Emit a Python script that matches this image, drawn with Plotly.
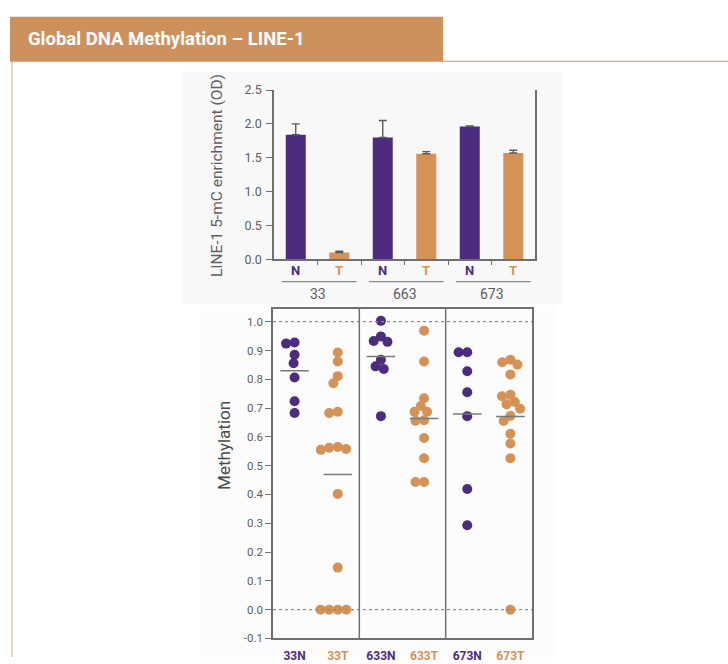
import numpy as np
import plotly.graph_objects as go

# ---------------- data ----------------
# LINE-1 5-mC enrichment (OD), normal vs tumour for three samples
bar_groups = ["33", "663", "673"]
bar_tissue = ["N", "T", "N", "T", "N", "T"]
bar_means = [1.84, 0.10, 1.80, 1.56, 1.96, 1.57]
bar_err_up = [0.16, 0.02, 0.25, 0.03, 0.01, 0.04]
bar_yticks = [0.0, 0.5, 1.0, 1.5, 2.0, 2.5]

# LINE-1 methylation at individual CpG sites
dot_labels = ["33N", "33T", "633N", "633T", "673N", "673T"]
meth_33N = [0.928, 0.924, 0.885, 0.856, 0.806, 0.724, 0.683]
meth_33T = [0.893, 0.862, 0.811, 0.786, 0.687, 0.683, 0.565, 0.562, 0.558,
            0.555, 0.402, 0.146, 0.0, 0.0, 0.0, 0.0]
meth_633N = [1.003, 0.949, 0.933, 0.930, 0.868, 0.845, 0.836, 0.672]
meth_633T = [0.969, 0.862, 0.734, 0.707, 0.687, 0.687, 0.658, 0.656, 0.596,
             0.526, 0.443, 0.443]
meth_673N = [0.894, 0.894, 0.828, 0.755, 0.672, 0.419, 0.293]
meth_673T = [0.868, 0.859, 0.851, 0.817, 0.746, 0.741, 0.721, 0.713, 0.698,
             0.673, 0.655, 0.611, 0.577, 0.526, 0.0]
dot_yticks = [1.0, 0.9, 0.8, 0.7, 0.6, 0.5, 0.4, 0.3, 0.2, 0.1, 0.0, -0.1]

# ---------------- styling ----------------
W, H = 728, 664
PURPLE = "#4B2C7E"
ORANGE = "#D49257"
HEADER = "#CC915D"
AXIS = "#707070"
TXT = "#5e5e5e"
FONT = "Roboto"


def px_x(p):
    return p / W


def px_y(p):
    return 1 - p / H


tissue_color = {"N": PURPLE, "T": ORANGE}

# axis geometry (pixels in the page)
top_x_px = (274, 535)
top_y_px = (84, 257)
bot_x_px = (273, 532)
bot_y_px = (308, 645)
bot_yrange = [-0.1, 1.044]


def swarm_offsets(values, xscale, yscale, diam):
    """Beeswarm layout: returns horizontal offsets (data units)."""
    vals = np.asarray(values, dtype=float)
    order = np.argsort(-vals, kind="stable")
    placed = []
    offs = np.zeros(len(vals))
    for i in order:
        y = vals[i] * yscale
        blocked = []
        for px, py in placed:
            dy = abs(py - y)
            if dy < diam:
                h = np.sqrt(diam ** 2 - dy ** 2)
                blocked.append((px - h, px + h))
        cands = [0.0] + [b for iv in blocked for b in iv]
        cands.sort(key=lambda c: (abs(round(c, 6)), c))
        chosen = 0.0
        for c in cands:
            if all(not (lo + 1e-6 < c < hi - 1e-6) for lo, hi in blocked):
                chosen = c
                break
        offs[i] = chosen
        placed.append((chosen, y))
    return offs / xscale


fig = go.Figure()

# ---------- top: bar chart ----------
fig.add_trace(go.Bar(
    x=list(range(len(bar_means))), y=bar_means,
    marker=dict(color=[tissue_color[t] for t in bar_tissue], line=dict(width=0)),
    width=0.46,
    error_y=dict(type="data", symmetric=False, array=bar_err_up,
                 arrayminus=[0] * len(bar_means), color="#5a5a5a",
                 thickness=1.4, width=4),
    xaxis="x", yaxis="y", showlegend=False,
))

# ---------- bottom: dot plot ----------
series = [meth_33N, meth_33T, meth_633N, meth_633T, meth_673N, meth_673T]
xscale = (bot_x_px[1] - bot_x_px[0]) / 6.0
yscale = (bot_y_px[1] - bot_y_px[0]) / (bot_yrange[1] - bot_yrange[0])
shapes = []
for i, vals in enumerate(series):
    color = PURPLE if dot_labels[i].endswith("N") else ORANGE
    offs = swarm_offsets(vals, xscale, yscale, 8.6)
    fig.add_trace(go.Scatter(
        x=i + offs, y=vals, mode="markers",
        marker=dict(size=10, color=color, line=dict(width=0)),
        xaxis="x2", yaxis="y2", showlegend=False, hoverinfo="y",
    ))
    m = float(np.mean(vals))
    shapes.append(dict(type="line", xref="x2", yref="y2", x0=i - 0.33,
                       x1=i + 0.33, y0=m, y1=m,
                       line=dict(color="#7a7a7a", width=1.5)))

# reference lines at 0 and 1
for yv in (0.0, 1.0):
    shapes.append(dict(type="line", xref="x2 domain", yref="y2", x0=0, x1=1,
                       y0=yv, y1=yv,
                       line=dict(color="#8a8a8a", width=1.2, dash="dot")))
# sample dividers
for xv in (1.5, 3.5):
    shapes.append(dict(type="line", xref="x2", yref="y2 domain", x0=xv, x1=xv,
                       y0=0, y1=1, line=dict(color=AXIS, width=1.5)))

# panel backgrounds
shapes.append(dict(type="rect", xref="paper", yref="paper", layer="below",
                   x0=px_x(183), x1=px_x(562), y0=px_y(303), y1=px_y(65),
                   fillcolor="#f8f8f8", line=dict(width=0)))
shapes.append(dict(type="rect", xref="paper", yref="paper", layer="below",
                   x0=px_x(200), x1=px_x(555), y0=px_y(664), y1=px_y(303),
                   fillcolor="#fcfcfc", line=dict(width=0)))

# header bar and frame lines
shapes.append(dict(type="rect", xref="paper", yref="paper",
                   x0=px_x(10), x1=px_x(443), y0=px_y(55), y1=px_y(9),
                   fillcolor=HEADER, line=dict(width=0)))
shapes.append(dict(type="line", xref="paper", yref="paper",
                   x0=px_x(443), x1=1, y0=px_y(54.5), y1=px_y(54.5),
                   line=dict(color=HEADER, width=1)))
shapes.append(dict(type="line", xref="paper", yref="paper",
                   x0=px_x(12), x1=px_x(12), y0=0, y1=px_y(55),
                   line=dict(color="#dcb48f", width=1.2)))

# group underline for top chart
for g in range(len(bar_groups)):
    shapes.append(dict(type="line", xref="x", yref="paper",
                       x0=2 * g - 0.32, x1=2 * g + 1.4,
                       y0=px_y(280), y1=px_y(280),
                       line=dict(color="#8a8a8a", width=1.2)))

annotations = []
annotations.append(dict(text="<b>Global DNA Methylation – LINE-1</b>",
                        xref="paper", yref="paper", x=px_x(26), y=px_y(32),
                        xanchor="left", yanchor="middle", showarrow=False,
                        font=dict(family=FONT, size=18.5, color="white")))
for i, t in enumerate(bar_tissue):
    annotations.append(dict(text=f"<b>{t}</b>", xref="x", yref="paper",
                            x=i, y=px_y(269), showarrow=False,
                            xanchor="center", yanchor="middle",
                            font=dict(family=FONT, size=13,
                                      color=tissue_color[t])))
for g, name in enumerate(bar_groups):
    annotations.append(dict(text=name, xref="x", yref="paper",
                            x=2 * g + 0.5, y=px_y(293), showarrow=False,
                            xanchor="center", yanchor="middle",
                            font=dict(family=FONT, size=14, color=TXT)))
annotations.append(dict(text="LINE-1 5-mC enrichment (OD)", xref="paper",
                        yref="paper", x=px_x(217), y=px_y(172),
                        textangle=-90, showarrow=False, xanchor="center",
                        yanchor="middle",
                        font=dict(family=FONT, size=15.5, color=TXT)))
annotations.append(dict(text="Methylation", xref="paper", yref="paper",
                        x=px_x(224), y=px_y(448), textangle=-90,
                        showarrow=False, xanchor="center", yanchor="middle",
                        font=dict(family=FONT, size=17, color="#4a4a4a")))

dot_ticktext = [
    f"<b><span style='color:{PURPLE if l.endswith('N') else ORANGE}'>{l}</span></b>"
    for l in dot_labels]

fig.update_layout(
    width=W, height=H, margin=dict(l=0, r=0, t=0, b=0),
    paper_bgcolor="white", plot_bgcolor="rgba(0,0,0,0)",
    font=dict(family=FONT, color=TXT),
    shapes=shapes, annotations=annotations,
    xaxis=dict(domain=[px_x(top_x_px[0]), px_x(top_x_px[1])],
               range=[-0.5, 5.5], anchor="y",
               tickmode="array", tickvals=[0.5, 1.5, 2.5, 3.5, 4.5],
               ticks="outside", ticklen=4, tickwidth=1.3, tickcolor=AXIS,
               showticklabels=False, showgrid=False, zeroline=False,
               showline=True, linecolor=AXIS, linewidth=1.5),
    yaxis=dict(domain=[px_y(top_y_px[1]), px_y(top_y_px[0])],
               range=[0, 2.5], anchor="x",
               tickmode="array", tickvals=bar_yticks,
               ticktext=[f"{v:.1f}" for v in bar_yticks],
               ticks="outside", ticklen=6, tickwidth=1.3, tickcolor=AXIS,
               tickfont=dict(family=FONT, size=12.5, color=TXT),
               ticklabelstandoff=2,
               showgrid=False, zeroline=False, showline=True, mirror=True,
               linecolor=AXIS, linewidth=1.5),
    xaxis2=dict(domain=[px_x(bot_x_px[0]), px_x(bot_x_px[1])],
                range=[-0.5, 5.5], anchor="y2",
                tickmode="array", tickvals=list(range(6)),
                ticktext=dot_ticktext, ticks="",
                tickfont=dict(family=FONT, size=12),
                ticklabelstandoff=5,
                showgrid=False, zeroline=False, showline=True, mirror=True,
                linecolor=AXIS, linewidth=1.5),
    yaxis2=dict(domain=[px_y(bot_y_px[1]), px_y(bot_y_px[0])],
                range=bot_yrange, anchor="x2",
                tickmode="array", tickvals=dot_yticks,
                ticktext=[f"{v:.1f}" for v in dot_yticks],
                ticks="outside", ticklen=6, tickwidth=1.3, tickcolor=AXIS,
                tickfont=dict(family=FONT, size=11.5, color=TXT),
                showgrid=False, zeroline=False, showline=True, mirror=True,
                linecolor=AXIS, linewidth=1.5),
)

fig.write_html("out.html")
